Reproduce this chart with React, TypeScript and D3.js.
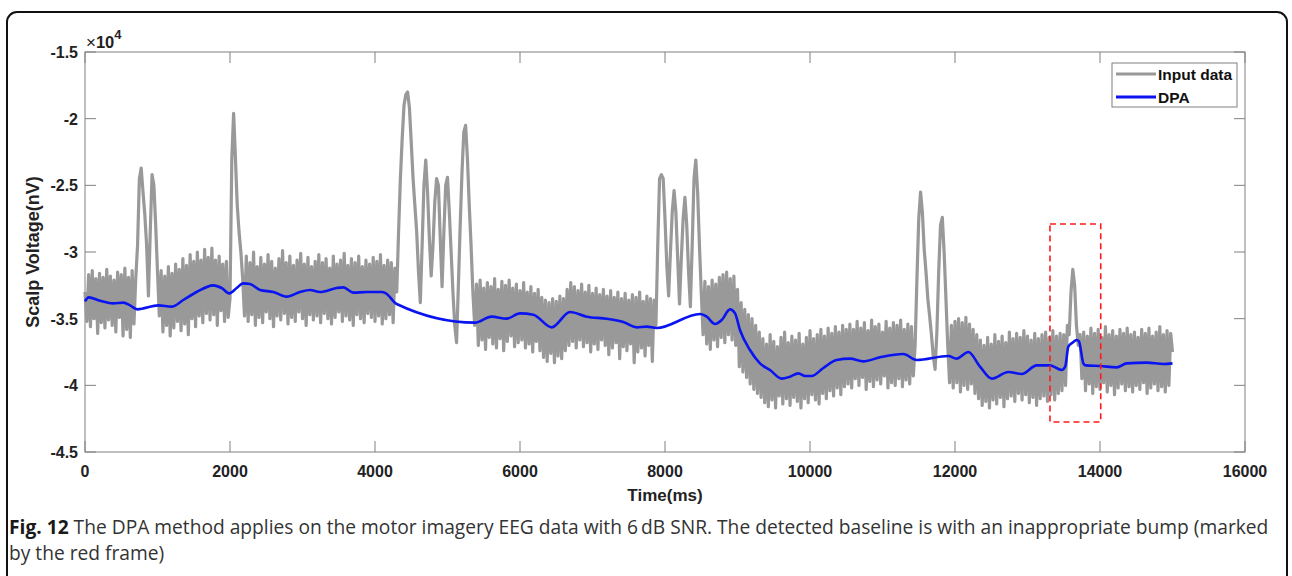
import React from 'react';
import * as d3 from 'd3';

// ---------- data (values in units of 1e4 nV), one sample every 25 ms ----------
const SAMPLE_MS = 25;
const inputData: number[] = [
  // 0 - 27
  -3.30, -3.52, -3.17, -3.56, -3.14, -3.50, -3.20, -3.61, -3.16, -3.53,
  -3.19, -3.57, -3.13, -3.51, -3.18, -3.55, -3.21, -3.60, -3.15, -3.49,
  -3.17, -3.63, -3.12, -3.58, -3.19, -3.64, -3.14, -3.54,
  // 28 - 41 (twin spike)
  -3.20, -2.95, -2.45, -2.37, -2.55, -2.72, -2.95, -3.33, -2.85, -2.42,
  -2.50, -2.80, -3.15, -3.48,
  // 42 - 79
  -3.14, -3.60, -3.18, -3.55, -3.11, -3.63, -3.16, -3.57,
  -3.09, -3.52, -3.13, -3.59, -3.05, -3.54, -3.10, -3.62, -3.02, -3.50,
  -3.07, -3.56, -3.00, -3.48, -3.06, -3.53, -2.98, -3.46, -3.04, -3.51,
  -2.97, -3.47, -3.06, -3.55, -3.03, -3.44, -3.09, -3.52, -3.07, -3.49,
  // 80 - 88 (spike at 2040 ms)
  -3.35, -2.30, -1.96, -2.30, -2.65, -2.85, -3.00, -3.20, -3.48,
  // 89 - 171
  -3.03,
  -3.52, -3.08, -3.47, -3.00, -3.55, -3.11, -3.49, -3.04, -3.53, -3.09,
  -3.45, -3.02, -3.50, -3.07, -3.56, -3.12, -3.48, -3.05, -3.51, -2.99,
  -3.46, -3.08, -3.54, -3.03, -3.49, -3.10, -3.52, -3.06, -3.45, -3.01,
  -3.50, -3.09, -3.55, -3.04, -3.47, -3.11, -3.51, -3.07, -3.48, -3.02,
  -3.53, -3.08, -3.46, -3.05, -3.50, -3.12, -3.54, -3.03, -3.49, -3.09,
  -3.45, -3.06, -3.52, -3.01, -3.48, -3.10, -3.51, -3.05, -3.55, -3.08,
  -3.47, -3.03, -3.50, -3.11, -3.53, -3.06, -3.46, -3.09, -3.49, -3.04,
  -3.52, -3.07, -3.48, -3.02, -3.54, -3.10, -3.50, -3.06, -3.47, -3.08,
  -3.53, -3.12,
  // 172 - 215 (burst 4300-5375 ms)
  -3.30, -2.85, -2.45, -2.15, -1.90, -1.82, -1.80, -1.92, -2.18, -2.45,
  -2.65, -2.85, -3.15, -3.38, -2.95, -2.50, -2.31, -2.55, -2.90, -3.18,
  -2.95, -2.62, -2.45, -2.50, -2.90, -3.26, -2.85, -2.50, -2.44, -2.70,
  -3.00, -3.30, -3.55, -3.68, -3.25, -2.80, -2.40, -2.10, -2.05, -2.30,
  -2.65, -2.95, -3.30, -3.55,
  // 216 - 314
  -3.24, -3.70, -3.21, -3.66,
  -3.27, -3.73, -3.23, -3.64, -3.26, -3.69, -3.20, -3.72, -3.28, -3.65,
  -3.22, -3.74, -3.25, -3.67, -3.21, -3.63, -3.27, -3.71, -3.24, -3.68,
  -3.29, -3.66, -3.23, -3.72, -3.30, -3.69, -3.26, -3.75, -3.31, -3.67,
  -3.28, -3.74, -3.34, -3.79, -3.36, -3.82, -3.38, -3.76, -3.35, -3.83,
  -3.37, -3.78, -3.33, -3.80, -3.35, -3.74, -3.28, -3.70, -3.23, -3.67,
  -3.26, -3.72, -3.29, -3.66, -3.24, -3.71, -3.30, -3.68, -3.25, -3.75,
  -3.31, -3.69, -3.27, -3.73, -3.32, -3.66, -3.28, -3.70, -3.33, -3.77,
  -3.29, -3.72, -3.34, -3.68, -3.30, -3.80, -3.35, -3.71, -3.31, -3.74,
  -3.36, -3.69, -3.32, -3.83, -3.34, -3.75, -3.30, -3.72, -3.37, -3.78,
  -3.33, -3.70, -3.35, -3.82, -3.36,
  // 315 - 341 (burst 7875-8525 ms)
  -3.55, -2.95, -2.45, -2.42, -2.45, -2.75, -3.10, -3.33, -3.00, -2.70,
  -2.54, -2.70, -3.05, -3.39, -3.05, -2.75, -2.59, -2.80, -3.15, -3.41,
  -2.95, -2.45, -2.31, -2.55, -2.95, -3.30, -3.62,
  // 342 - 360
  -3.22, -3.69, -3.26, -3.73, -3.21, -3.66, -3.24, -3.71,
  -3.19, -3.64, -3.17, -3.68, -3.15, -3.62, -3.20, -3.66, -3.18, -3.70,
  -3.28,
  // 361 - 372 (drop)
  -3.86, -3.38, -3.90, -3.43, -3.94, -3.47, -3.99, -3.50, -4.03, -3.55,
  -4.06, -3.60,
  // 373 - 420
  -4.09, -3.65, -4.13, -3.69, -4.16, -3.62, -4.11,
  -3.67, -4.17, -3.71, -4.08, -3.64, -4.14, -3.60, -4.10, -3.68, -4.15,
  -3.63, -4.09, -3.66, -4.12, -3.61, -4.17, -3.69, -4.10, -3.64, -4.13,
  -3.59, -4.07, -3.65, -4.11, -3.62, -4.14, -3.58, -4.06, -3.63, -4.10,
  -3.57, -4.04, -3.61, -4.08, -3.56, -4.02, -3.60, -4.07, -3.55, -4.01,
  -3.58,
  // 421 - 457
  -3.99, -3.54, -4.02, -3.58, -3.95, -3.52, -4.00, -3.57, -3.94,
  -3.53, -4.03, -3.59, -3.97, -3.51, -4.01, -3.56, -3.96, -3.54, -3.99,
  -3.60, -3.93, -3.52, -4.02, -3.57, -3.98, -3.53, -4.00, -3.55, -3.95,
  -3.51, -4.01, -3.58, -3.96, -3.54, -3.99, -3.56, -3.93,
  // 458 - 477 (twin spike 11450-11925 ms)
  -3.70, -3.20, -2.75, -2.55, -2.70, -2.98, -3.15, -3.35, -3.48, -3.62,
  -3.78, -3.88, -3.60, -3.15, -2.80, -2.74, -3.00, -3.35, -3.70, -3.98,
  // 478 - 492
  -3.55, -4.02,
  -3.52, -3.98, -3.50, -4.05, -3.53, -4.00, -3.49, -4.03, -3.54, -3.99,
  -3.58, -4.06, -3.62,
  // 493 - 539
  -4.10, -3.66, -4.15, -3.70, -4.12, -3.64, -4.17,
  -3.69, -4.11, -3.62, -4.14, -3.67, -4.09, -3.63, -4.16, -3.68, -4.10,
  -3.60, -4.08, -3.65, -4.12, -3.61, -4.06, -3.64, -4.11, -3.59, -4.07,
  -3.63, -4.13, -3.66, -4.09, -3.61, -4.15, -3.65, -4.10, -3.62, -4.08,
  -3.60, -4.12, -3.64, -4.07, -3.59, -4.11, -3.63, -4.06, -3.61, -4.04,
  // 540 - 550 (bump 13500-13750 ms)
  -3.62, -4.00, -3.55, -3.62, -3.30, -3.13, -3.25, -3.55, -3.70, -3.62,
  -3.95,
  // 551 - 600
  -3.60, -4.04, -3.63, -3.99, -3.57, -4.06, -3.61, -4.01, -3.58,
  -4.03, -3.64, -3.98, -3.56, -4.05, -3.62, -4.00, -3.59, -4.07, -3.63,
  -4.02, -3.58, -3.99, -3.61, -4.04, -3.57, -4.01, -3.62, -4.05, -3.60,
  -4.00, -3.64, -4.03, -3.58, -3.98, -3.61, -4.06, -3.57, -4.02, -3.63,
  -3.99, -3.60, -4.04, -3.56, -4.01, -3.62, -4.05, -3.59, -4.00, -3.61,
  -3.75,
];

const dpaTime: number[] = [
  0, 50, 207, 391, 529, 621, 722, 1012, 1195, 1356,
  1540, 1770, 1885, 1991, 2092, 2184, 2276, 2414, 2598, 2782,
  2966, 3103, 3241, 3471, 3563, 3701, 3885, 4092, 4150, 4299,
  5379, 5609, 5816, 6000, 6184, 6437, 6690, 6920, 7195, 7425,
  7609, 7747, 7885, 8483, 8575, 8690, 8782, 8897, 8966, 9034,
  9172, 9310, 9448, 9609, 9724, 9839, 9931, 10023, 10184, 10368,
  10552, 10735, 10965, 11287, 11471, 11908, 12023, 12184, 12345, 12506,
  12736, 12920, 13127, 13310, 13471, 13520, 13563, 13620, 13679, 13710,
  13770, 13800, 14000, 14230, 14368, 14644, 14874, 15000,
];
const dpaValue: number[] = [
  -3.37, -3.34, -3.365, -3.385, -3.38, -3.40, -3.43, -3.40, -3.41, -3.36,
  -3.30, -3.25, -3.27, -3.31, -3.27, -3.235, -3.24, -3.285, -3.30, -3.335,
  -3.30, -3.285, -3.30, -3.27, -3.265, -3.305, -3.30, -3.30, -3.31, -3.39,
  -3.53, -3.485, -3.50, -3.46, -3.47, -3.565, -3.45, -3.485, -3.50, -3.525,
  -3.565, -3.56, -3.57, -3.465, -3.485, -3.54, -3.51, -3.43, -3.46, -3.585,
  -3.735, -3.835, -3.885, -3.95, -3.935, -3.91, -3.93, -3.93, -3.87, -3.81,
  -3.80, -3.82, -3.79, -3.765, -3.81, -3.78, -3.80, -3.75, -3.86, -3.95,
  -3.90, -3.915, -3.85, -3.85, -3.885, -3.86, -3.71, -3.68, -3.66, -3.67,
  -3.835, -3.85, -3.855, -3.865, -3.835, -3.83, -3.84, -3.835,
];

const xTicks: number[] = [0, 2000, 4000, 6000, 8000, 10000, 12000, 14000, 16000];
const yTicks: number[] = [-1.5, -2, -2.5, -3, -3.5, -4, -4.5];
const yTickLabels: string[] = ['-1.5', '-2', '-2.5', '-3', '-3.5', '-4', '-4.5'];
const markTime: number[] = [13310, 14010];
const markValue: number[] = [-2.79, -4.275];
const legendLabels: string[] = ['Input data', 'DPA'];
const xLabel = 'Time(ms)';
const yLabel = 'Scalp Voltage(nV)';
const captionBold = 'Fig. 12';
const captionLine1 =
  ' The DPA method applies on the motor imagery EEG data with 6\u2009dB SNR. The detected baseline is with an inappropriate bump (marked';
const captionLine2 = 'by the red frame)';

const GRAY = '#999999';
const BLUE = '#0a14f0';
const AXIS = '#808080';
const FONT = '"Liberation Sans", Arial, Helvetica, sans-serif';
const CAPFONT = '"Open Sans", "Noto Sans", sans-serif';

export default function App() {
  const W = 1292;
  const H = 576;
  const m = { left: 85, right: 1245, top: 52, bottom: 452 };
  const x = d3.scaleLinear().domain([0, 16000]).range([m.left, m.right]);
  const y = d3.scaleLinear().domain([-4.5, -1.5]).range([m.bottom, m.top]);

  const inputPath = d3
    .line<number>()
    .x((_, i) => x(i * SAMPLE_MS))
    .y((d) => y(d))(inputData) as string;

  const dpaPath = d3
    .line<number>()
    .x((_, i) => x(dpaTime[i]))
    .y((d) => y(d))
    .curve(d3.curveMonotoneX)(dpaValue) as string;

  const tickLen = 11;

  return (
    <svg
      width={W}
      height={H}
      style={{ position: 'absolute', left: 0, top: 0, background: '#fff' }}
    >
      <rect x={0} y={0} width={W} height={H} fill="#fff" />
      {/* outer frame */}
      <rect x={7} y={12} width={1280} height={580} rx={10} ry={10} fill="none" stroke="#111" strokeWidth={2} />

      {/* plot box */}
      <rect
        x={m.left}
        y={m.top}
        width={m.right - m.left}
        height={m.bottom - m.top}
        fill="#fff"
        stroke={AXIS}
        strokeWidth={1}
      />

      {/* ticks */}
      {xTicks.map((t) => (
        <g key={'xt' + t}>
          <line x1={x(t)} x2={x(t)} y1={m.bottom} y2={m.bottom - tickLen} stroke={AXIS} />
          <line x1={x(t)} x2={x(t)} y1={m.top} y2={m.top + tickLen} stroke={AXIS} />
          <text
            x={x(t)}
            y={m.bottom + 25}
            textAnchor="middle"
            fontFamily={FONT}
            fontWeight="bold"
            fontSize={16}
            fill="#222"
          >
            {String(t)}
          </text>
        </g>
      ))}
      {yTicks.map((v, i) => (
        <g key={'yt' + v}>
          <line x1={m.left} x2={m.left + tickLen} y1={y(v)} y2={y(v)} stroke={AXIS} />
          <line x1={m.right} x2={m.right - tickLen} y1={y(v)} y2={y(v)} stroke={AXIS} />
          <text
            x={m.left - 7}
            y={y(v) + 6}
            textAnchor="end"
            fontFamily={FONT}
            fontWeight="bold"
            fontSize={16}
            fill="#222"
          >
            {yTickLabels[i]}
          </text>
        </g>
      ))}

      {/* exponent */}
      <text x={86} y={48} fontFamily={FONT} fontSize={17} fill="#222">
        <tspan>{'\u00d7'}</tspan>
        <tspan fontWeight="bold" fontSize={16.5}>10</tspan>
        <tspan fontWeight="bold" fontSize={13} dy={-9}>4</tspan>
      </text>

      {/* series */}
      <path d={inputPath} fill="none" stroke={GRAY} strokeWidth={3.2} strokeLinejoin="round" />
      <path d={dpaPath} fill="none" stroke={BLUE} strokeWidth={2.6} strokeLinejoin="round" />

      {/* red dashed frame */}
      <rect
        x={x(markTime[0])}
        y={y(markValue[0])}
        width={x(markTime[1]) - x(markTime[0])}
        height={y(markValue[1]) - y(markValue[0])}
        fill="none"
        stroke="#ff1a1a"
        strokeWidth={1.6}
        strokeDasharray="6,4"
      />

      {/* legend */}
      <g>
        <rect x={1112} y={63} width={125} height={44} fill="#fff" stroke={AXIS} strokeWidth={1} />
        <line x1={1116} x2={1156} y1={74} y2={74} stroke={GRAY} strokeWidth={3} />
        <line x1={1116} x2={1156} y1={97} y2={97} stroke={BLUE} strokeWidth={3} />
        <text x={1158} y={80} fontFamily={FONT} fontWeight="bold" fontSize={15.5} fill="#111">
          {legendLabels[0]}
        </text>
        <text x={1158} y={102.5} fontFamily={FONT} fontWeight="bold" fontSize={15.5} fill="#111">
          {legendLabels[1]}
        </text>
      </g>

      {/* axis labels */}
      <text
        x={(m.left + m.right) / 2}
        y={501}
        textAnchor="middle"
        fontFamily={FONT}
        fontWeight="bold"
        fontSize={17}
        fill="#222"
      >
        {xLabel}
      </text>
      <text
        transform={`translate(39, ${(m.top + m.bottom) / 2}) rotate(-90)`}
        textAnchor="middle"
        fontFamily={FONT}
        fontWeight="bold"
        fontSize={18}
        fill="#222"
      >
        {yLabel}
      </text>

      {/* caption */}
      <text x={9} y={534} fontFamily={CAPFONT} fontSize={19.2} fill="#333">
        <tspan fontWeight="bold" fill="#1a1a1a">{captionBold}</tspan>
        <tspan>{captionLine1}</tspan>
      </text>
      <text x={9} y={560} fontFamily={CAPFONT} fontSize={19.2} fill="#333">
        {captionLine2}
      </text>
    </svg>
  );
}
